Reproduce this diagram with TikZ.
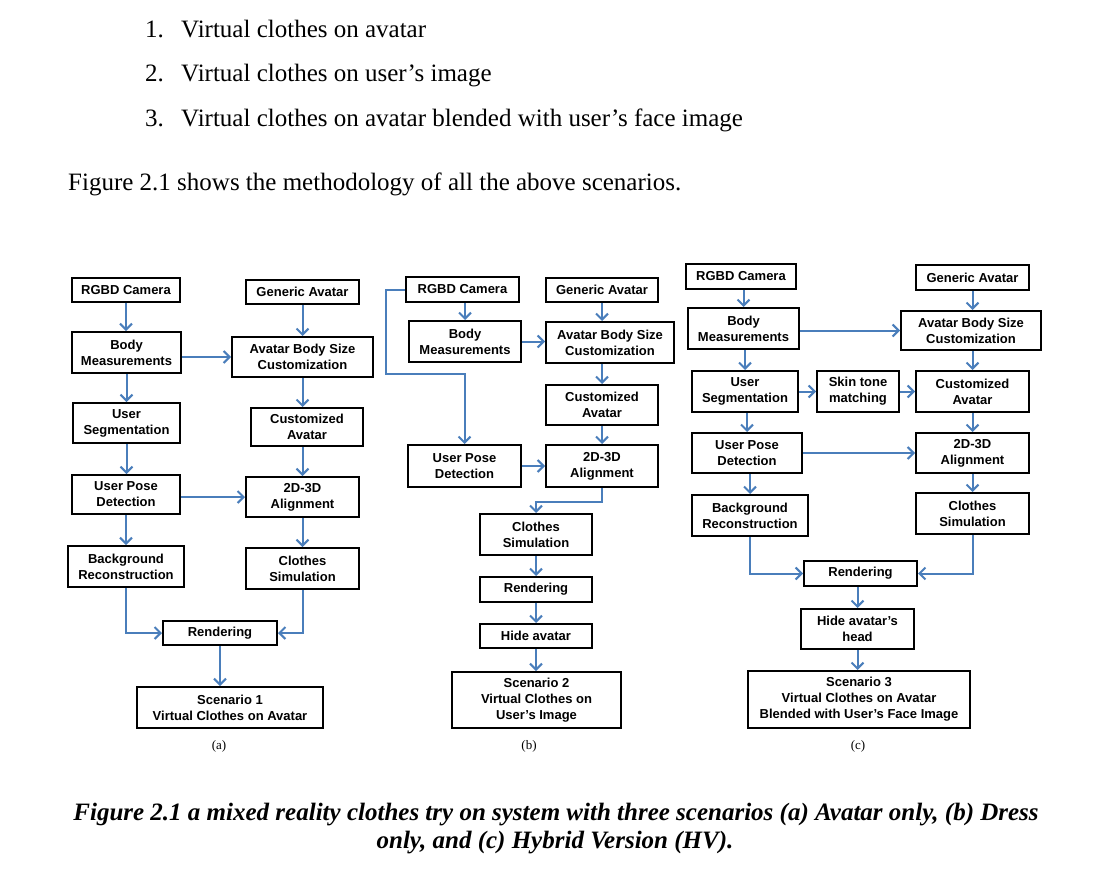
\documentclass[tikz,border=0pt]{standalone}
\usepackage{fontspec}
\setmainfont{Liberation Serif}
\newfontfamily\boxfont{Liberation Sans}
\usetikzlibrary{arrows.meta}
\definecolor{flowblue}{HTML}{4A7EBB}
\tikzset{
  box/.style={draw=black, line width=2pt, inner sep=0pt, align=center,
    font=\boxfont\bfseries\fontsize{13}{16}\selectfont, text=black},
  wh/.style 2 args={minimum width=#1pt, minimum height=#2pt},
  flow/.style={draw=flowblue, line width=2pt, line join=miter,
    -{Straight Barb[length=6pt,width=12pt,line width=2pt]}},
  bodytext/.style={anchor=base west, inner sep=0pt, font=\fontsize{25}{30}\selectfont},
  captext/.style={anchor=base, inner sep=0pt, font=\bfseries\itshape\fontsize{25}{30}\selectfont},
  sublabel/.style={inner sep=0pt, font=\fontsize{13}{16}\selectfont},
}
\begin{document}
\begin{tikzpicture}[x=1pt,y=-1pt]
\fill[white] (0,0) rectangle (1118,880);
\useasboundingbox (0,0) rectangle (1118,880);

% numbered list and lead-in sentence
\node[bodytext] (n1) at (145,38) {1.};
\node[bodytext] (l1) at (181,38) {Virtual clothes on avatar};
\node[bodytext] (n2) at (145,82) {2.};
\node[bodytext] (l2) at (181,82) {Virtual clothes on user’s image};
\node[bodytext] (n3) at (145,126) {3.};
\node[bodytext] (l3) at (181,126) {Virtual clothes on avatar blended with user’s face image};
\node[bodytext] (lead) at (68,190) {Figure 2.1 shows the methodology of all the above scenarios.};

% ---------------- (a) avatar only ----------------
\node[box, wh={108}{24}] (aCam)   at (126,290)   {RGBD Camera};
\node[box, wh={113}{24}] (aGen)   at (302.5,292) {Generic Avatar};
\node[box, wh={109}{41}] (aBody)  at (126.5,352.5) {Body\\Measurements};
\node[box, wh={141}{40}] (aABS)   at (302.5,357) {Avatar Body Size\\Customization};
\node[box, wh={107}{40}] (aSeg)   at (126.5,423) {User\\Segmentation};
\node[box, wh={112}{38}] (aCust)  at (307,427)   {Customized\\Avatar};
\node[box, wh={108}{39}] (aPose)  at (126,494.5) {User Pose\\Detection};
\node[box, wh={113}{40}] (aAlign) at (302.5,497) {2D-3D\\Alignment};
\node[box, wh={116}{41}] (aBg)    at (126,566.5) {Background\\Reconstruction};
\node[box, wh={113}{41}] (aCloth) at (302.5,568.5) {Clothes\\Simulation};
\node[box, wh={114}{24}] (aRend)  at (220,633)   {Rendering};
\node[box, wh={186}{41}] (aScen)  at (230,707.5) {Scenario 1\\Virtual Clothes on Avatar};
\node[sublabel] (aLab) at (219,746) {(a)};

\draw[flow] (aCam.south) -- (aCam.south |- aBody.north);
\draw[flow] (aGen.south) -- (aGen.south |- aABS.north);
\draw[flow] (aABS.west -| aBody.east) -- (aABS.west);
\draw[flow] (aBody.south) -- (aBody.south |- aSeg.north);
\draw[flow] (aABS.south) -- (aABS.south |- aCust.north);
\draw[flow] (aSeg.south) -- (aSeg.south |- aPose.north);
\draw[flow] (aAlign.north |- aCust.south) -- (aAlign.north);
\draw[flow] (aAlign.west -| aPose.east) -- (aAlign.west);
\draw[flow] (aPose.south) -- (aPose.south |- aBg.north);
\draw[flow] (aAlign.south) -- (aAlign.south |- aCloth.north);
\draw[flow] (aBg.south) |- (aRend.west);
\draw[flow] (aCloth.south) |- (aRend.east);
\draw[flow] (aRend.south) -- (aRend.south |- aScen.north);

% ---------------- (b) dress only ----------------
\node[box, wh={113}{25}] (bCam)   at (462.5,289.5) {RGBD Camera};
\node[box, wh={112}{24}] (bGen)   at (602,290)   {Generic Avatar};
\node[box, wh={112}{41}] (bBody)  at (465,341.5) {Body\\Measurements};
\node[box, wh={128}{41}] (bABS)   at (610,342.5) {Avatar Body Size\\Customization};
\node[box, wh={112}{40}] (bCust)  at (602,405)   {Customized\\Avatar};
\node[box, wh={113}{42}] (bPose)  at (464.5,466) {User Pose\\Detection};
\node[box, wh={112}{42}] (bAlign) at (602,466)   {2D-3D\\Alignment};
\node[box, wh={112}{41}] (bCloth) at (536,534.5) {Clothes\\Simulation};
\node[box, wh={112}{25}] (bRend)  at (536,589.5) {Rendering};
\node[box, wh={112}{24}] (bHide)  at (536,636)   {Hide avatar};
\node[box, wh={169}{56}] (bScen)  at (536.5,700) {Scenario 2\\Virtual Clothes on\\User’s Image};
\node[sublabel] (bLab) at (529,746) {(b)};
\coordinate (bBend) at (386,374);

\draw[flow] (bBody.north |- bCam.south) -- (bBody.north);
\draw[flow] (bGen.south) -- (bGen.south |- bABS.north);
\draw[flow] (bBody.east) -- (bBody.east -| bABS.west);
\draw[flow] (bCust.north |- bABS.south) -- (bCust.north);
\draw[flow] (bCust.south) -- (bCust.south |- bAlign.north);
\draw[flow] (bCam.west) -| (bBend) -| (bPose.north);
\draw[flow] (bPose.east) -- (bPose.east -| bAlign.west);
\draw[flow] (bAlign.south) -- ++(0,14) -| (bCloth.north);
\draw[flow] (bCloth.south) -- (bCloth.south |- bRend.north);
\draw[flow] (bRend.south) -- (bRend.south |- bHide.north);
\draw[flow] (bHide.south) -- (bHide.south |- bScen.north);

% ---------------- (c) hybrid version ----------------
\node[box, wh={110}{25}] (cCam)   at (741,276.5) {RGBD Camera};
\node[box, wh={113}{25}] (cGen)   at (972.5,277.5) {Generic Avatar};
\node[box, wh={111}{41}] (cBody)  at (743.5,328.5) {Body\\Measurements};
\node[box, wh={140}{39}] (cABS)   at (971,330.5) {Avatar Body Size\\Customization};
\node[box, wh={106}{41}] (cSeg)   at (745,391.5) {User\\Segmentation};
\node[box, wh={82}{41}]  (cSkin)  at (858,391.5) {Skin tone\\matching};
\node[box, wh={113}{41}] (cCust)  at (972.5,391.5) {Customized\\Avatar};
\node[box, wh={110}{40}] (cPose)  at (747,453)   {User Pose\\Detection};
\node[box, wh={113}{40}] (cAlign) at (972.5,453) {2D-3D\\Alignment};
\node[box, wh={116}{41}] (cBg)    at (750,515.5) {Background\\Reconstruction};
\node[box, wh={113}{41}] (cCloth) at (972.5,513.5) {Clothes\\Simulation};
\node[box, wh={113}{25}] (cRend)  at (860.5,573.5) {Rendering};
\node[box, wh={113}{40}] (cHide)  at (857.5,629) {Hide avatar’s\\head};
\node[box, wh={222}{57}] (cScen)  at (859,699.5) {Scenario 3\\Virtual Clothes on Avatar\\Blended with User’s Face Image};
\node[sublabel] (cLab) at (858,746) {(c)};

\draw[flow] (cBody.north |- cCam.south) -- (cBody.north);
\draw[flow] (cGen.south) -- (cGen.south |- cABS.north);
\draw[flow] (cABS.west -| cBody.east) -- (cABS.west);
\draw[flow] (cSeg.north |- cBody.south) -- (cSeg.north);
\draw[flow] (cSeg.east) -- (cSkin.west);
\draw[flow] (cSkin.east) -- (cCust.west);
\draw[flow] (cCust.north |- cABS.south) -- (cCust.north);
\draw[flow] (cPose.north |- cSeg.south) -- (cPose.north);
\draw[flow] (cCust.south) -- (cCust.south |- cAlign.north);
\draw[flow] (cPose.east) -- (cPose.east -| cAlign.west);
\draw[flow] (cBg.north |- cPose.south) -- (cBg.north);
\draw[flow] (cAlign.south) -- (cAlign.south |- cCloth.north);
\draw[flow] (cBg.south) |- (cRend.west);
\draw[flow] (cCloth.south) |- (cRend.east);
\draw[flow] (cHide.north |- cRend.south) -- (cHide.north);
\draw[flow] (cHide.south) -- (cHide.south |- cScen.north);

% caption
\node[captext] (cap1) at (556,820) {Figure 2.1 a mixed reality clothes try on system with three scenarios (a) Avatar only, (b) Dress};
\node[captext] (cap2) at (555,848) {only, and (c) Hybrid Version (HV).};
\end{tikzpicture}
\end{document}
